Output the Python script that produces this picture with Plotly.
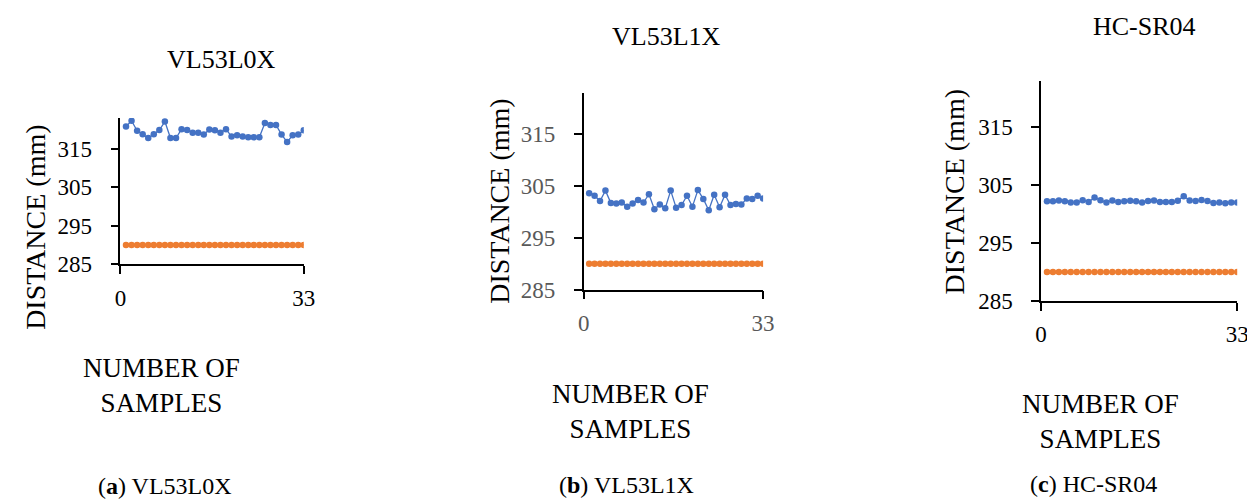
import plotly.graph_objects as go

samples = list(range(1, 34))

vl53l0x = [320.8, 322.3, 319.7, 318.8, 317.8, 318.8, 319.9, 322.1, 317.8, 317.8,
           320.1, 319.9, 319.2, 319.2, 318.7, 320.0, 319.8, 319.2, 320.1, 318.2,
           318.5, 318.2, 318.0, 318.0, 318.0, 321.7, 321.2, 321.2, 318.7, 316.8,
           318.5, 318.7, 319.8]
vl53l1x = [303.6, 303.1, 302.1, 304.1, 301.7, 301.6, 301.8, 301.0, 301.6, 302.3,
           301.8, 303.4, 300.5, 301.4, 300.7, 304.1, 300.8, 301.3, 303.1, 301.0,
           304.2, 302.5, 300.3, 303.3, 300.9, 303.3, 301.3, 301.5, 301.4, 302.6,
           302.5, 303.1, 302.6]
hcsr04 = [302.2, 302.2, 302.35, 302.2, 302.0, 302.0, 302.4, 302.1, 302.85, 302.4,
          302.0, 302.35, 302.1, 302.2, 302.3, 302.2, 302.0, 302.25, 302.35, 302.1,
          302.1, 302.1, 302.3, 303.1, 302.35, 302.25, 302.45, 302.25, 301.9, 302.0,
          301.85, 302.0, 302.0]
reference = [290] * 33

titles = ["VL53L0X", "VL53L1X", "HC-SR04"]
captions = ["(<b>a</b>) VL53L0X", "(<b>b</b>) VL53L1X", "(<b>c</b>) HC-SR04"]
y_ticks = [285, 295, 305, 315]
x_ticks = [0, 33]
y_title = "DISTANCE (mm)"
x_title = "NUMBER OF<br>SAMPLES"

W, H = 1255, 502
FONT = "Liberation Serif"
BLUE = "#4472C4"
ORANGE = "#ED7D31"

# pixel geometry of each panel: x0, x1 (plot left/right), ybot, ytop
panels = [
    dict(x0=108, x1=294, yb=263, yt=113, tick_col="black",
         title=(211, 53), ytit=(21, 225), xtit=(150, 388), cap=(153, 491)),
    dict(x0=578, x1=760, yb=289, yt=87, tick_col="#595959",
         title=(662, 29), ytit=(493, 198), xtit=(625, 414), cap=(621, 490)),
    dict(x0=1042, x1=1241, yb=300.6, yt=75, tick_col="black",
         title=(1147, 19), ytit=(954, 189), xtit=(1102, 425), cap=(1095, 489)),
]
series = [vl53l0x, vl53l1x, hcsr04]

fig = go.Figure()
annotations = []
layout = {}
for i, (p, data) in enumerate(zip(panels, series)):
    n = "" if i == 0 else str(i + 1)
    xa, ya = "x" + n, "y" + n
    fig.add_trace(go.Scatter(x=samples, y=data, xaxis=xa, yaxis=ya, mode="lines+markers",
                             line=dict(color=BLUE, width=1.3),
                             marker=dict(color=BLUE, size=6.5), showlegend=False))
    fig.add_trace(go.Scatter(x=samples, y=reference, xaxis=xa, yaxis=ya, mode="lines+markers",
                             line=dict(color=ORANGE, width=1.3),
                             marker=dict(color=ORANGE, size=6.5), showlegend=False))
    common = dict(showgrid=False, zeroline=False, showline=True, linecolor="black",
                  linewidth=1.5, ticks="outside", ticklen=8, tickwidth=1.5,
                  tickcolor="black", tickfont=dict(family=FONT, size=23, color=p["tick_col"]))
    layout["xaxis" + n] = dict(common, domain=[p["x0"] / W, p["x1"] / W], range=[0, 33],
                                tickvals=x_ticks, anchor=ya, ticklabelstandoff=4)
    layout["yaxis" + n] = dict(common, domain=[1 - p["yb"] / H, 1 - p["yt"] / H],
                                range=[285, 323], tickvals=y_ticks, anchor=xa,
                                ticklabelstandoff=14)
    for key, text, size in [("title", titles[i], 26), ("xtit", x_title, 27), ("cap", captions[i], 24)]:
        x, y = p[key]
        annotations.append(dict(text=text, x=x / W, y=1 - y / H, xref="paper", yref="paper",
                                xanchor="center", yanchor="middle", showarrow=False,
                                font=dict(family=FONT, size=size, color="black")))
    x, y = p["ytit"]
    annotations.append(dict(text=y_title, x=x / W, y=1 - y / H, xref="paper", yref="paper",
                            xanchor="center", yanchor="middle", showarrow=False, textangle=-90,
                            font=dict(family=FONT, size=28, color="black")))

fig.update_layout(width=W, height=H, margin=dict(l=0, r=0, t=0, b=0),
                  paper_bgcolor="white", plot_bgcolor="white",
                  font=dict(family=FONT),
                  annotations=annotations, **layout)
fig.write_html("out.html")
